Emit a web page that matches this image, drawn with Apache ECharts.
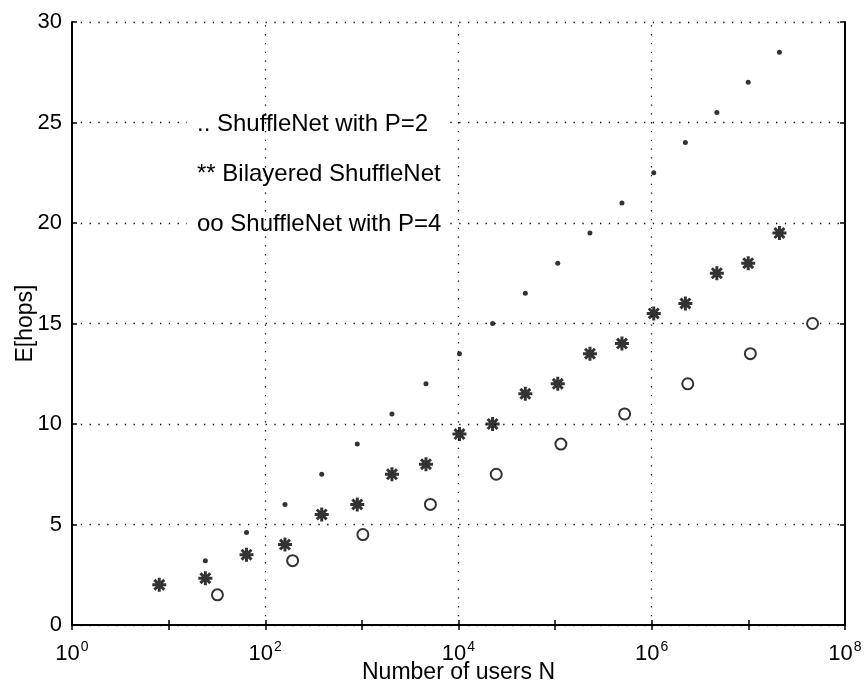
<!DOCTYPE html>
<html>
<head>
<meta charset="utf-8">
<script src="https://cdn.jsdelivr.net/npm/echarts@6/dist/echarts.min.js"></script>
<style>
html,body{margin:0;padding:0;background:#fff;}
#chart{width:867px;height:688px;}
</style>
</head>
<body>
<div id="chart"></div>
<script>
// ---- data ----
const seriesNames = ['ShuffleNet with P=2', 'Bilayered ShuffleNet', 'ShuffleNet with P=4'];
const legendPrefixes = ['..', '**', 'oo'];

const xP2 = [24, 64, 160, 384, 896, 2048, 4608, 10240, 22528, 49152, 106496, 229376, 491520, 1048576, 2228224, 4718592, 9961472, 20971520];
const yP2 = [3.2, 4.6, 6, 7.5, 9, 10.5, 12, 13.5, 15, 16.5, 18, 19.5, 21, 22.5, 24, 25.5, 27, 28.5];

const xBi = [8, 24, 64, 160, 384, 896, 2048, 4608, 10240, 22528, 49152, 106496, 229376, 491520, 1048576, 2228224, 4718592, 9961472, 20971520];
const yBi = [2, 2.33, 3.5, 4, 5.5, 6, 7.5, 8, 9.5, 10, 11.5, 12, 13.5, 14, 15.5, 16, 17.5, 18, 19.5];

const xP4 = [32, 192, 1024, 5120, 24576, 114688, 524288, 2359296, 10485760, 46137344];
const yP4 = [1.5, 3.2, 4.5, 6, 7.5, 9, 10.5, 12, 13.5, 15];

const xGridValues = [1e2, 1e4, 1e6];
const xMin = 1, xMax = 1e8;
const yMin = 0, yMax = 30, yStep = 5;

// ---- chart ----
const FONT = 'Liberation Sans';
const pair = (xs, ys) => xs.map((x, i) => [x, ys[i]]);
const asterisk = 'path://M-1.5,-7 L1.5,-7 L1.5,7 L-1.5,7 Z M-7,-1.5 L7,-1.5 L7,1.5 L-7,1.5 Z ' +
  'M-3.9,-6 L6,3.9 L3.9,6 L-6,-3.9 Z M6,-3.9 L-3.9,6 L-6,3.9 L3.9,-6 Z';

const dotted = {color: '#000', width: 1.3, type: [1.3, 7.5]};

const chart = echarts.init(document.getElementById('chart'), null, {renderer: 'canvas'});
const axisLine = {show: true, lineStyle: {color: '#000', width: 2}};
const tick = {show: true, inside: true, length: 5, lineStyle: {color: '#000', width: 1.5}};

chart.setOption({
  animation: false,
  backgroundColor: '#fff',
  textStyle: {fontFamily: FONT, color: '#000'},
  grid: {left: 72, right: 22, top: 22, bottom: 63, containLabel: false, outerBoundsMode: 'none'},
  legend: {
    data: seriesNames,
    orient: 'vertical',
    left: 187,
    top: 110,
    padding: [2, 4, 2, 4],
    itemWidth: 0,
    itemHeight: 0,
    itemGap: 26,
    selectedMode: false,
    backgroundColor: '#fff',
    formatter: name => legendPrefixes[seriesNames.indexOf(name)] + ' ' + name,
    textStyle: {fontFamily: FONT, fontSize: 24, color: '#000', lineHeight: 24}
  },
  xAxis: [{
    type: 'log', logBase: 10, min: xMin, max: xMax, interval: 1, splitNumber: 8,
    name: 'Number of users N', nameLocation: 'middle', nameGap: 36, nameMoveOverlap: false,
    nameTextStyle: {fontFamily: FONT, fontSize: 23, color: '#000'},
    axisLine: axisLine,
    axisTick: tick,
    minorTick: {show: false},
    splitLine: {show: false},
    axisLabel: {
      margin: 15,
      formatter: v => {
        const e = Math.round(Math.log10(v));
        return e % 2 === 0 ? '{b|10}{s|' + e + '}' : '';
      },
      rich: {
        b: {fontFamily: FONT, fontSize: 22, color: '#000'},
        s: {fontFamily: FONT, fontSize: 14, color: '#000', padding: [0, 0, 14, 1]}
      }
    }
  }, {
    type: 'log', logBase: 10, min: xMin, max: xMax, interval: 1, splitNumber: 8, position: 'top',
    axisLine: axisLine,
    axisTick: tick,
    axisLabel: {show: false}, splitLine: {show: false}
  }],
  yAxis: [{
    type: 'value', min: yMin, max: yMax, interval: yStep,
    name: 'E[hops]', nameLocation: 'middle', nameGap: 35, nameMoveOverlap: false,
    nameTextStyle: {fontFamily: FONT, fontSize: 23, color: '#000'},
    axisLine: axisLine,
    axisTick: tick,
    axisLabel: {fontFamily: FONT, fontSize: 22, color: '#000', margin: 10},
    splitLine: {show: true, lineStyle: dotted}
  }, {
    type: 'value', min: yMin, max: yMax, interval: yStep, position: 'right',
    axisLine: axisLine,
    axisTick: tick,
    axisLabel: {show: false}, splitLine: {show: false}
  }],
  series: [{
    name: seriesNames[0], type: 'scatter', xAxisIndex: 0, yAxisIndex: 0,
    symbol: 'circle', symbolSize: 5,
    itemStyle: {color: '#000'},
    data: pair(xP2, yP2),
    markLine: {
      silent: true, symbol: 'none', label: {show: false}, animation: false,
      lineStyle: dotted, emphasis: {disabled: true},
      data: xGridValues.map(v => ({xAxis: v}))
    }
  }, {
    name: seriesNames[1], type: 'scatter', xAxisIndex: 0, yAxisIndex: 0,
    symbol: asterisk, symbolSize: 14,
    itemStyle: {color: '#000'},
    data: pair(xBi, yBi)
  }, {
    name: seriesNames[2], type: 'scatter', xAxisIndex: 0, yAxisIndex: 0,
    symbol: 'emptyCircle', symbolSize: 11,
    itemStyle: {color: '#000', borderColor: '#000', borderWidth: 1.7},
    data: pair(xP4, yP4)
  }]
});
</script>
</body>
</html>
